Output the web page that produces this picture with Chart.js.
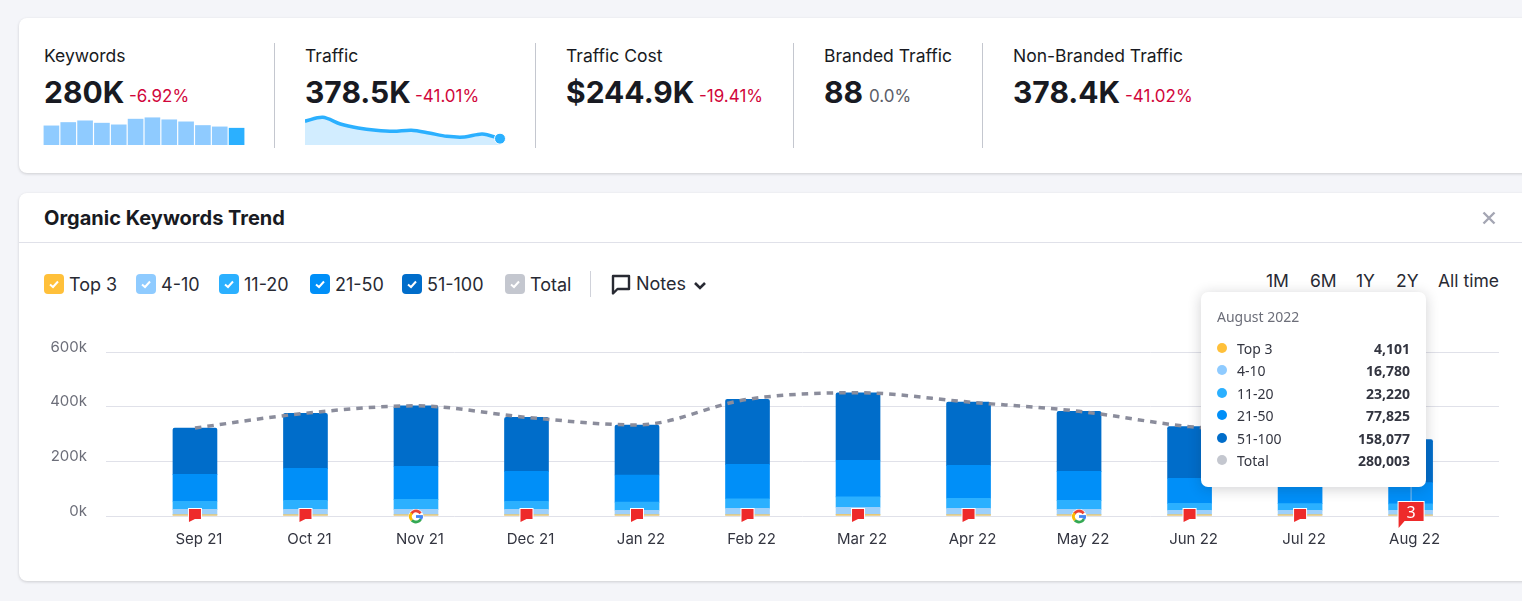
<!DOCTYPE html>
<html>
<head>
<meta charset="utf-8">
<title>Organic Keywords Trend</title>
<script src="https://cdn.jsdelivr.net/npm/chart.js@4"></script>
<style>
    html, body { margin: 0; padding: 0; background: #f4f5f9; }
    body { position: relative; width: 1522px; height: 601px; overflow: hidden; font-family: Inter, sans-serif; color: #181a22; }
    .card { position: absolute; left: 19px; width: 1540px; background: #fff; border-radius: 8px; box-shadow: 0 1px 3px rgba(25, 27, 35, .18); }
    .abs { position: absolute; white-space: nowrap; }
    .label { font-size: 17.5px; line-height: 24px; top: 44px; }
    .big { font-size: 30px; font-weight: 700; line-height: 40px; top: 72px; }
    .delta { font-size: 17px; line-height: 24px; top: 84px; color: #d1063b; }
    .divider { position: absolute; width: 1px; top: 43px; height: 105px; background: #c4c7cf; }
    .check { position: absolute; top: 274px; width: 20px; height: 20px; border-radius: 4px; }
    .check svg { position: absolute; left: 4px; top: 4px; }
    .legend-text { top: 273px; font-size: 18px; line-height: 24px; color: #282a33; }
    .range { top: 269px; font-size: 17.5px; line-height: 24px; color: #282a33; }
    canvas { position: absolute; }
    #tooltip { position: absolute; left: 1201px; top: 292px; width: 225px; height: 195px; background: #fff; border-radius: 7px; box-shadow: 0 2px 14px rgba(25, 27, 35, .2); font-family: "Noto Sans", sans-serif; font-size: 14px; color: #333540; }
    #tooltip .t-title { position: absolute; left: 16px; top: 15px; line-height: 20px; color: #6c6e79; }
    #tooltip .t-dot { position: absolute; left: 16px; width: 10px; height: 10px; border-radius: 50%; }
    #tooltip .t-name { position: absolute; left: 36px; line-height: 20px; }
    #tooltip .t-val { position: absolute; right: 16px; line-height: 20px; font-weight: 700; }
</style>
</head>
<body>
<div class="card" style="top:18px;height:155px"></div>
<div class="card" style="top:193px;height:388px"></div>

<div class="divider" style="left:274px"></div>
<div class="divider" style="left:535px"></div>
<div class="divider" style="left:793px"></div>
<div class="divider" style="left:982px"></div>

<div id="stats"></div>

<canvas id="keywordsSpark" style="left:43px;top:115px"></canvas>
<canvas id="trafficSpark" style="left:305px;top:115px"></canvas>

<div class="abs" style="left:44px;top:205px;font-size:20px;font-weight:700;line-height:26px">Organic Keywords Trend</div>
<svg class="abs" style="left:1482px;top:211px" width="14" height="14"><path d="M1.5 1.5L12.5 12.5M12.5 1.5L1.5 12.5" stroke="#a4a6b3" stroke-width="2.4"/></svg>
<div class="abs" style="left:19px;top:242px;width:1503px;height:1px;background:#e0e1e9"></div>

<div id="legend"></div>
<div class="abs" style="left:590px;top:271px;width:1px;height:26px;background:#d0d2da"></div>
<svg class="abs" style="left:611px;top:274px" width="20" height="21"><path d="M2 2H18V15H6.5L2 19.5Z" fill="none" stroke="#282a33" stroke-width="2.4" stroke-linejoin="round"/></svg>
<div class="abs legend-text" style="left:636px;top:272px">Notes</div>
<svg class="abs" style="left:693px;top:281px" width="14" height="10"><path d="M2 2L7 7L12 2" fill="none" stroke="#282a33" stroke-width="2.6"/></svg>

<div class="abs range" style="left:1266px">1M</div>
<div class="abs range" style="left:1310px">6M</div>
<div class="abs range" style="left:1356px">1Y</div>
<div class="abs range" style="left:1396px">2Y</div>
<div class="abs range" style="left:1438px">All time</div>

<canvas id="trendChart" style="left:0;top:324px"></canvas>
<div id="tooltip"></div>

<script>
// Chart data
const categories = ["Sep 21", "Oct 21", "Nov 21", "Dec 21", "Jan 22", "Feb 22", "Mar 22", "Apr 22", "May 22", "Jun 22", "Jul 22", "Aug 22"];
const top3 = [5000, 5000, 5000, 5000, 5000, 5000, 6000, 5000, 5000, 5000, 5000, 4101];
const pos4to10 = [19500, 19000, 19000, 19000, 16000, 23000, 26000, 23000, 19000, 16000, 16000, 16780];
const pos11to20 = [29500, 33000, 37000, 30000, 30000, 35000, 38000, 37000, 33000, 25000, 24000, 23220];
const pos21to50 = [98000, 117000, 121000, 109000, 99000, 126000, 134000, 120000, 106000, 92000, 85000, 77825];
const pos51to100 = [170000, 202000, 221000, 198000, 183000, 238000, 247000, 232000, 220000, 189000, 172000, 158077];
const totals = [322000, 376000, 403000, 361000, 333000, 427000, 451000, 417000, 383000, 327000, 302000, 280003];
const yTicks = [0, 200000, 400000, 600000];
const notes = ["flag", "flag", "google", "flag", "flag", "flag", "flag", "flag", "google", "flag", "flag", "3"];

const sparkKeywords = [319, 375, 403, 364, 336, 431, 454, 420, 386, 325, 302, 280];
const sparkTraffic = [1430, 1660, 1260, 1020, 880, 820, 880, 720, 520, 480, 660, 380];

const seriesNames = ["Top 3", "4-10", "11-20", "21-50", "51-100", "Total"];
const seriesColors = ["#ffc03a", "#8fcbff", "#2bb0ff", "#008ff8", "#006dca", "#c4c7cf"];
const tooltipTitle = "August 2022";
const tooltipValues = ["4,101", "16,780", "23,220", "77,825", "158,077", "280,003"];

const stats = [
    { x: 44, label: "Keywords", value: "280K", delta: "-6.92%", dx: 129, color: "#d1063b" },
    { x: 305, label: "Traffic", value: "378.5K", delta: "-41.01%", dx: 415, color: "#d1063b" },
    { x: 566, label: "Traffic Cost", value: "$244.9K", delta: "-19.41%", dx: 699, color: "#d1063b" },
    { x: 824, label: "Branded Traffic", value: "88", delta: "0.0%", dx: 869, color: "#5c5e69" },
    { x: 1013, label: "Non-Branded Traffic", value: "378.4K", delta: "-41.02%", dx: 1125, color: "#d1063b" },
];

// Stat row
const statsEl = document.getElementById("stats");
stats.forEach(s => {
    statsEl.innerHTML += `<div class="abs label" style="left:${s.x}px">${s.label}</div>`
        + `<div class="abs big" style="left:${s.x}px">${s.value}</div>`
        + `<div class="abs delta" style="left:${s.dx}px;color:${s.color}">${s.delta}</div>`;
});

// Legend checkboxes
const legendBoxes = [44, 136, 219, 310, 402, 505];
const legendEl = document.getElementById("legend");
seriesNames.forEach((name, i) => {
    legendEl.innerHTML += `<div class="check" style="left:${legendBoxes[i]}px;background:${seriesColors[i]}">`
        + `<svg width="12" height="12"><path d="M2 6.5L5 9L10 3.5" fill="none" stroke="#fff" stroke-width="2"/></svg></div>`
        + `<div class="abs legend-text" style="left:${legendBoxes[i] + 25}px">${name}</div>`;
});

// Tooltip box
const tooltipEl = document.getElementById("tooltip");
const rowTops = [47, 69, 92, 114, 137, 159];
tooltipEl.innerHTML = `<div class="t-title">${tooltipTitle}</div>`;
seriesNames.forEach((name, i) => {
    tooltipEl.innerHTML += `<div class="t-dot" style="top:${rowTops[i] + 4}px;background:${seriesColors[i]}"></div>`
        + `<div class="t-name" style="top:${rowTops[i]}px">${name}</div>`
        + `<div class="t-val" style="top:${rowTops[i]}px">${tooltipValues[i]}</div>`;
});

Chart.defaults.animation = false;
Chart.defaults.responsive = false;
Chart.defaults.plugins.legend.display = false;
Chart.defaults.plugins.tooltip.enabled = false;

function setSize(id, w, h) {
    const c = document.getElementById(id);
    c.width = w;
    c.height = h;
    return c;
}

// Keywords sparkline
new Chart(setSize("keywordsSpark", 202, 30), {
    type: "bar",
    data: {
        labels: categories,
        datasets: [{
            data: sparkKeywords,
            backgroundColor: sparkKeywords.map((v, i) => i === sparkKeywords.length - 1 ? "#2bb0ff" : "#8fcbff"),
            barThickness: 15,
        }],
    },
    options: {
        scales: {
            x: { display: false },
            y: { display: false, min: 0, max: 500 },
        },
    },
});

// Traffic sparkline
new Chart(setSize("trafficSpark", 210, 30), {
    type: "line",
    data: {
        labels: categories,
        datasets: [{
            data: sparkTraffic,
            borderColor: "#2bb0ff",
            borderWidth: 3.5,
            backgroundColor: "#d2edff",
            fill: "origin",
            tension: 0.3,
            clip: false,
            pointRadius: sparkTraffic.map((v, i) => i === sparkTraffic.length - 1 ? 5.5 : 0),
            pointBackgroundColor: "#2bb0ff",
            pointBorderColor: "#fff",
            pointBorderWidth: 1,
        }],
    },
    options: {
        layout: { autoPadding: false, padding: { right: 15 } },
        scales: {
            x: { display: false },
            y: { display: false, min: 0, max: 1800 },
        },
    },
});

// Note markers and the hover line on the main chart
const noteMarkers = {
    id: "noteMarkers",
    afterDraw(chart) {
        const ctx = chart.ctx;
        const xs = chart.scales.x;
        const base = chart.scales.y.getPixelForValue(0);
        ctx.save();
        // hover line
        const hx = xs.getPixelForValue(notes.length - 1) + 0.5;
        ctx.strokeStyle = "rgba(205, 215, 230, .65)";
        ctx.lineWidth = 1;
        ctx.beginPath();
        ctx.moveTo(hx, chart.chartArea.top);
        ctx.lineTo(hx, base);
        ctx.stroke();

        notes.forEach((kind, i) => {
            const x = xs.getPixelForValue(i);
            if (kind === "google") {
                drawGoogle(ctx, x, base + 0.5);
            } else if (kind === "flag") {
                drawFlag(ctx, x - 6, base - 7, 12, 10, 3);
            } else {
                drawFlag(ctx, x - 12, base - 14, 25, 19, 7);
                ctx.fillStyle = "#fff";
                ctx.font = "16px 'Noto Sans'";
                ctx.textAlign = "center";
                ctx.textBaseline = "middle";
                ctx.fillText(kind, x + 0.5, base - 3);
            }
        });
        ctx.restore();
    },
};

function drawFlag(ctx, x, y, w, h, tail) {
    ctx.beginPath();
    ctx.moveTo(x, y);
    ctx.lineTo(x + w, y);
    ctx.lineTo(x + w, y + h);
    ctx.lineTo(x + Math.min(6, w / 2), y + h);
    ctx.lineTo(x, y + h + tail);
    ctx.closePath();
    ctx.lineWidth = 2;
    ctx.strokeStyle = "#fff";
    ctx.stroke();
    ctx.fillStyle = "#ee2a2a";
    ctx.fill();
}

function drawGoogle(ctx, x, y) {
    const r = 5.5;
    const parts = [
        ["#ea4335", -2.6, -0.6],
        ["#fbbc05", 2.4, 3.8],
        ["#34a853", 0.5, 2.4],
        ["#4285f4", 0, 0.5],
    ];
    ctx.beginPath();
    ctx.arc(x, y, r + 2, 0, Math.PI * 2);
    ctx.fillStyle = "#fff";
    ctx.fill();
    ctx.lineWidth = 2.8;
    parts.forEach(p => {
        ctx.beginPath();
        ctx.arc(x, y, r, p[1], p[2]);
        ctx.strokeStyle = p[0];
        ctx.stroke();
    });
    ctx.fillStyle = "#4285f4";
    ctx.fillRect(x, y - 1.4, r + 1.4, 2.8);
}

function barSet(values, i, extra) {
    return Object.assign({
        type: "bar",
        label: seriesNames[i],
        data: values.map((v, n) => ({ x: n, y: v })),
        backgroundColor: seriesColors[i],
        barThickness: 44,
        order: 2,
    }, extra);
}

// Main trend chart
new Chart(setSize("trendChart", 1522, 236), {
    data: {
        datasets: [
            barSet(top3, 0, { backgroundColor: "#e6c777" }),
            barSet(pos4to10, 1, { backgroundColor: "#9dd0fb" }),
            barSet(pos11to20, 2),
            barSet(pos21to50, 3),
            barSet(pos51to100, 4, { borderRadius: { topLeft: 2, topRight: 2 }, borderSkipped: false }),
            {
                type: "line",
                label: seriesNames[5],
                stack: "total",
                data: totals.map((v, n) => ({ x: n, y: v })),
                borderColor: "#8b8d9c",
                borderWidth: 3.5,
                borderDash: [6.5, 6],
                cubicInterpolationMode: "monotone",
                pointRadius: 0,
                clip: false,
                order: 1,
            },
        ],
    },
    options: {
        layout: { autoPadding: false, padding: { top: 0, right: 23, left: 0, bottom: 0 } },
        scales: {
            x: {
                type: "linear",
                offset: false,
                stacked: true,
                min: -0.805,
                max: 11.8,
                afterBuildTicks: s => { s.ticks = categories.map((c, i) => ({ value: i })); },
                afterFit: s => { s.height = 44; },
                grid: { display: false },
                border: { display: false },
                ticks: {
                    callback: v => categories[v],
                    autoSkip: false,
                    maxRotation: 0,
                    labelOffset: 4,
                    padding: 6,
                    color: "#333540",
                    font: { family: "Inter", size: 15 },
                },
            },
            y: {
                stacked: true,
                min: 0,
                max: 600000,
                afterBuildTicks: s => { s.ticks = yTicks.map(v => ({ value: v })); },
                afterFit: s => { s.width = 106; },
                grid: { color: "#e0e1e9", drawTicks: false, lineWidth: 1 },
                border: { display: false },
                ticks: {
                    callback: v => (v / 1000) + "k",
                    padding: 19,
                    labelOffset: -5,
                    color: "#6c6e79",
                    font: { family: "Inter", size: 15 },
                },
            },
        },
    },
    plugins: [noteMarkers],
});
</script>
</body>
</html>
